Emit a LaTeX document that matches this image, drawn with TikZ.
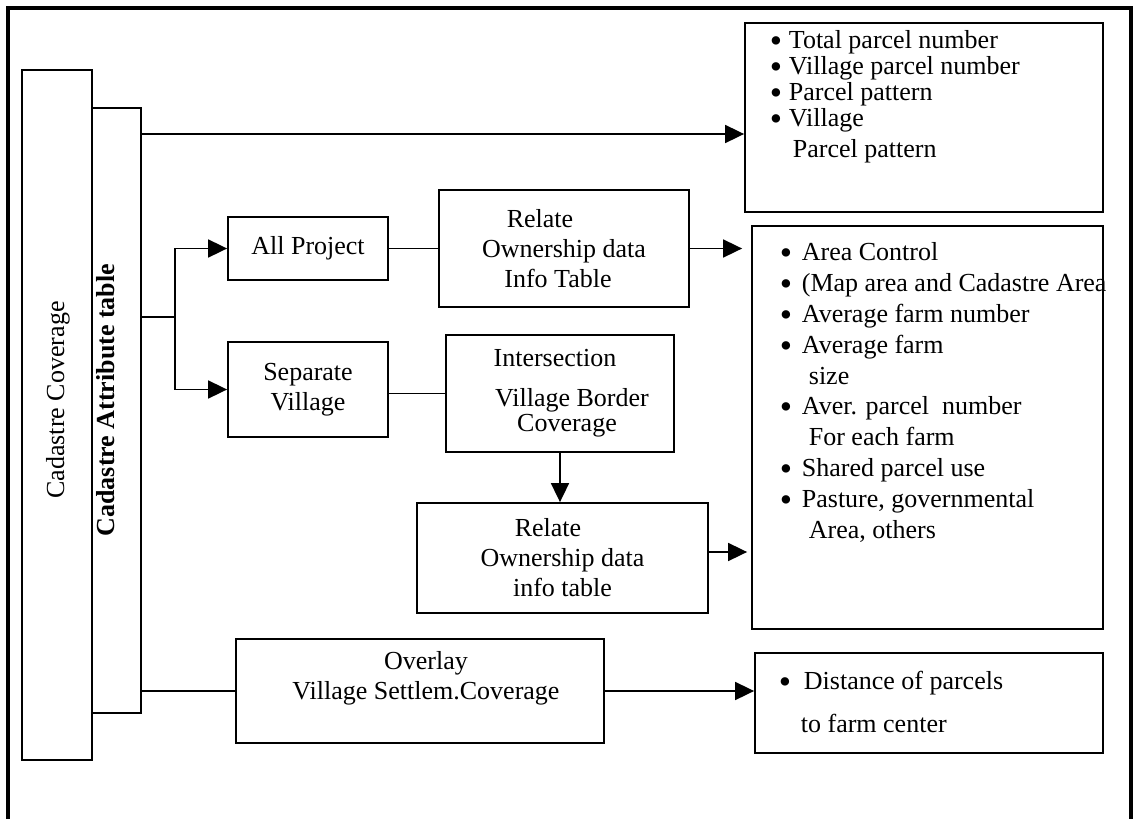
\documentclass[tikz,border=0pt]{standalone}
\usepackage{fontspec}
\setmainfont{Liberation Serif}
\usetikzlibrary{arrows.meta,positioning}
\newcommand\itm[1][19pt]{\makebox[#1][l]{\smash{\raisebox{-4pt}{\scalebox{1.35}{\textbullet}}}}}
\tikzset{
  box/.style={draw, line width=1.8pt, inner sep=0pt, align=center},
  listtxt/.style={anchor=north west, inner sep=0pt, align=left},
}
\begin{document}
\begin{tikzpicture}[x=1pt, y=-1pt, >={Triangle[length=19pt,width=18pt]}, line width=1.8pt,
    font=\fontsize{26}{30}\selectfont]
        \useasboundingbox (0,0) rectangle (1133,819);
        \draw[line width=3.5pt] (8,830) -- (8,8) -- (1131,8) -- (1131,830);
        % left columns
        \node[box, minimum width=70, minimum height=690] (cov) at (57,415) {};
        \node[rotate=90] (covtxt) at (58,400) {Cadastre Coverage};
        \node[box, minimum width=49, minimum height=605] (attr) at (116.5,410.5) {};
        \node[rotate=90, font=\fontsize{26}{30}\bfseries] (attrtxt) at (106,400) {Cadastre Attribute table};
        % process boxes
        \node[box, minimum width=160, minimum height=63] (allp) at (308,248.5) {All Project};
        \node[box, minimum width=160, minimum height=95] (sepv) at (308,389.5) {Separate\\Village};
        \node[box, minimum width=250, minimum height=117] (rel1) at (564,248.5)
            {Relate\hspace*{48pt}\\Ownership data\hspace*{14pt}\\Info Table\hspace*{12pt}};
        \node[box, minimum width=228, minimum height=117] (inter) at (560,393.5)
            {Intersection\hspace*{10pt}\\[10pt]\hspace*{24pt}Village Border\\[-5pt]\hspace*{14pt}Coverage};
        \node[box, minimum width=291, minimum height=110] (rel2) at (562.5,558)
            {Relate\hspace*{29pt}\\Ownership data\hspace*{15pt}\\info table};
        \node[box, minimum width=368, minimum height=104] (overlay) at (420,691) {};
        \node[align=center] (ovtxt) at (426,678) {Overlay\\Village Settlem.Coverage};
        % result boxes
        \node[box, minimum width=358, minimum height=189] (top) at (924,117.5) {};
        \node[listtxt, font=\fontsize{26}{26}\selectfont] (toptxt) at (769,30) {\itm Total parcel number\\
            \itm Village parcel number\\\itm Parcel pattern\\\itm Village\\[5pt]\hspace*{23pt}Parcel pattern};
        \node[box, minimum width=351, minimum height=403] (big) at (927.5,427.5) {};
        \node[listtxt, font=\fontsize{26}{30.8}\selectfont] (bigtxt) at (779,242) {\itm[22pt]Area Control\\
            \itm[22pt](Map area and Cadastre Area\\\itm[22pt]Average farm number\\
            \itm[22pt]Average farm\\\hspace*{29pt}size\\\itm[22pt]Aver. parcel\ \ number\\
            \hspace*{29pt}For each farm\\\itm[22pt]Shared parcel use\\
            \itm[22pt]Pasture, governmental\\\hspace*{29pt}Area, others};
        \node[box, minimum width=348, minimum height=100] (dist) at (929,703) {};
        \node[listtxt] (disttxt) at (778,670) {\itm[25pt]Distance of parcels\\[13pt]\hspace*{22pt}to farm center};
        % connectors
        \coordinate (fork) at (175,317);
        \draw[->] (attr.east |- 0,134) -- (top.west |- 0,134);
        \draw (attr.east |- fork) -- (fork);
        \draw[->] (fork) |- (allp.west);
        \draw[->] (fork) |- (sepv.west);
        \draw (allp) -- (rel1);
        \draw[->, shorten >=9pt] (rel1.east) -- (rel1.east -| big.west);
        \draw (sepv.east |- inter) -- (inter.west);
        \draw[->] (inter.south) -- (inter.south |- rel2.north);
        \draw[->, shorten >=4pt] (rel2.east |- 0,552) -- (big.west |- 0,552);
        \draw (attr.east |- overlay) -- (overlay);
        \draw[->] (overlay) -- (overlay -| dist.west);
    \end{tikzpicture}
\end{document}
